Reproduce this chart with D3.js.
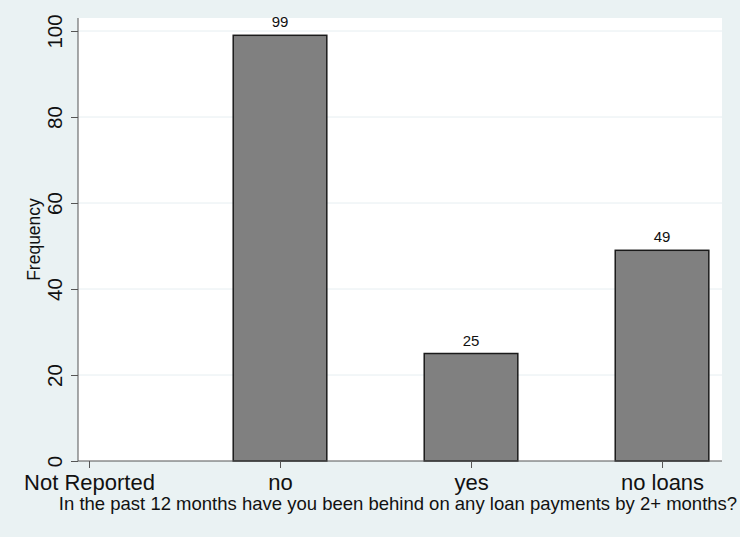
<!DOCTYPE html>
<html><head><meta charset="utf-8">
<script src="https://cdn.jsdelivr.net/npm/d3@7"></script>
<style>body{margin:0;background:#eaf2f3;}svg{display:block;}</style>
</head><body>
<script>
const categories = ["Not Reported", "no", "yes", "no loans"];
const values = [0, 99, 25, 49];
const yTicks = [0, 20, 40, 60, 80, 100];
const xTitle = "In the past 12 months have you been behind on any loan payments by 2+ months?";
const yTitle = "Frequency";

const W = 740, H = 537;
const FONT = "Liberation Sans, Arial, Helvetica, sans-serif";
const svg = d3.select("body").append("svg").attr("width", W).attr("height", H);
svg.append("rect").attr("width", W).attr("height", H).attr("fill", "#eaf2f3");

const plot = {left: 78, right: 722, top: 18, bottom: 461};
svg.append("rect").attr("x", plot.left).attr("y", plot.top)
  .attr("width", plot.right - plot.left).attr("height", plot.bottom - plot.top).attr("fill", "#fff");

const x = d3.scaleLinear().domain([-0.0576, 3.314]).range([plot.left, plot.right]);
const y = d3.scaleLinear().domain([0, 100]).range([plot.bottom, 31]);
const barW = 0.49;

// grid
svg.append("g").selectAll("line").data(yTicks.filter(d => d > 0)).join("line")
  .attr("x1", plot.left).attr("x2", plot.right)
  .attr("y1", d => y(d)).attr("y2", d => y(d))
  .attr("stroke", "#e6eef1").attr("stroke-width", 1);

// bars
const bars = categories.map((c, i) => ({c, i, v: values[i]})).filter(d => d.v > 0);
svg.append("g").selectAll("rect").data(bars).join("rect")
  .attr("x", d => x(d.i - barW / 2)).attr("width", d => x(d.i + barW / 2) - x(d.i - barW / 2))
  .attr("y", d => y(d.v)).attr("height", d => y(0) - y(d.v))
  .attr("fill", "#808080").attr("stroke", "#1a1a1a").attr("stroke-width", 1.5);

svg.append("g").selectAll("text").data(bars).join("text")
  .attr("x", d => x(d.i)).attr("y", d => y(d.v) - 8)
  .attr("text-anchor", "middle").attr("font-family", FONT)
  .attr("font-size", 15).attr("fill", "#111").text(d => d.v);

// y axis
const yAxis = d3.axisLeft(y).tickValues(yTicks).tickSize(7).tickPadding(4);
const gy = svg.append("g").attr("transform", `translate(${plot.left},0)`).call(yAxis);
gy.select(".domain").attr("d", `M0,${plot.top}V${plot.bottom}`).attr("stroke", "#555");
gy.selectAll(".tick line").attr("stroke", "#555");
gy.selectAll(".tick text").attr("font-family", FONT)
  .attr("font-size", 20.5).attr("fill", "#111")
  .attr("transform", `rotate(-90,-16,0)`)
  .attr("x", -16).attr("y", 0).attr("dy", "0").attr("text-anchor", "middle");

// x axis
const xAxis = d3.axisBottom(x).tickValues(d3.range(categories.length))
  .tickFormat(i => categories[i]).tickSize(7).tickPadding(4);
const gx = svg.append("g").attr("transform", `translate(0,${plot.bottom})`).call(xAxis);
gx.select(".domain").attr("d", `M${plot.left},0H${plot.right}`).attr("stroke", "#555");
gx.selectAll(".tick line").attr("stroke", "#555");
gx.selectAll(".tick text").attr("font-family", FONT)
  .attr("font-size", 22).attr("fill", "#111").attr("y", 29).attr("dy", "0");

svg.append("text").attr("x", 398).attr("y", 510).attr("text-anchor", "middle")
  .attr("font-family", FONT).attr("font-size", 18.5)
  .attr("fill", "#111").text(xTitle);

svg.append("text").attr("transform", `translate(40,${(plot.top + plot.bottom) / 2}) rotate(-90)`)
  .attr("text-anchor", "middle").attr("font-family", FONT)
  .attr("font-size", 17.5).attr("fill", "#111").text(yTitle);
</script>
</body></html>
